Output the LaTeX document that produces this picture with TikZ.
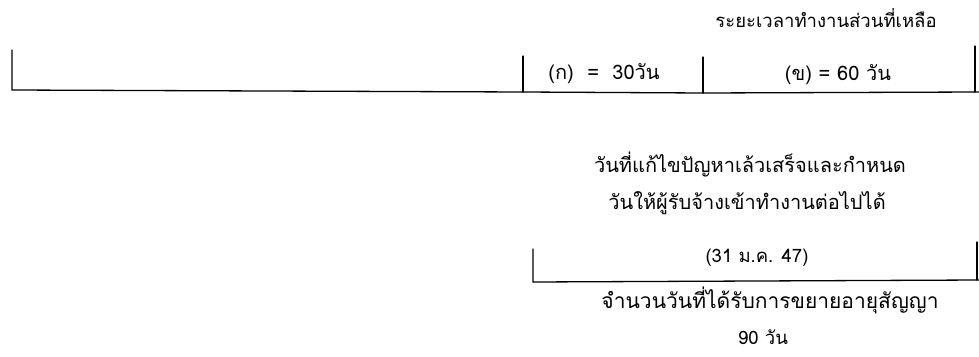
\documentclass[tikz,border=0pt]{standalone}
\usepackage{fontspec}
\newfontfamily\thaifont[Script=Thai]{Loma}
\begin{document}
\begin{tikzpicture}[
		x=1pt, y=-1pt,
		every node/.style={
			font=\thaifont\fontsize{20}{24}\selectfont,
			inner sep=0pt
		},
		tline/.style={draw, line width=1.3pt, line cap=round},
		label/.style={anchor=center},
		small/.style={font=\thaifont\fontsize{18.5}{22}\selectfont}
		]
		\useasboundingbox (0,0) rectangle (979,356);
		
		% top time line
		\coordinate (t0top) at (12,50);
		\coordinate (t0) at (12,90);
		\coordinate (t1top) at (523,56);
		\coordinate (t1) at (523,92);
		\coordinate (t2top) at (703,57);
		\coordinate (t2) at (703,93);
		\coordinate (t3top) at (975,46);
		\coordinate (t3) at (975,92);
		\coordinate (tend) at (979,92);
		
		\draw[tline] (t0top) -- (t0) -- (t1) -- (t2) -- (tend);
		\draw[tline] (t1top) -- (t1);
		\draw[tline] (t2top) -- (t2);
		\draw[tline] (t3top) -- (t3);
		
		\node[label,small] (rest) at (826,18) {ระยะเวลาทำงานส่วนที่เหลือ};
		\node[label] (partA) at (604,74) {(ก)\ \ =\ \ 30วัน};
		\node[label] (partB) at (838,75) {(ข) = 60 วัน};
		
		% lower box
		\coordinate (b0top) at (533,249);
		\coordinate (b0) at (533,282);
		\coordinate (b1top) at (977,242);
		\coordinate (b1) at (977,280);
		\coordinate (bend) at (979,280);
		
		\draw[tline] (b0top) -- (b0) -- (bend);
		\draw[tline] (b1top) -- (b1);
		
		\node[label] (fix1) at (750,164) {วันที่แก้ไขปัญหาเล้วเสร็จและกำหนด};
		\node[label] (fix2) at (747,203) {วันให้ผู้รับจ้างเข้าทำงานต่อไปได้};
		\node[label,small] (date) at (757,258) {(31 ม.ค. 47)};
		\node[label,font=\thaifont\fontsize{21}{24}\selectfont] (ext1) at (770,300) {จำนวนวันที่ได้รับการขยายอายุสัญญา};
		\node[label,small] (ext2) at (763,337) {90 วัน};
	\end{tikzpicture}
\end{document}
